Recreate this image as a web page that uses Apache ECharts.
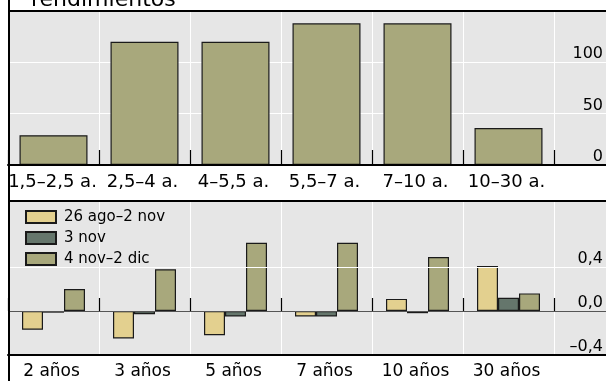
<!DOCTYPE html>
<html>
<head>
<meta charset="utf-8">
<script src="https://cdn.jsdelivr.net/npm/echarts@6/dist/echarts.min.js"></script>
<style>
html,body{margin:0;padding:0;background:#fff;}
#chart{width:606px;height:381px;}
</style>
</head>
<body>
<div id="chart"></div>
<script>
// ---- data ----
var titleText = 'rendimientos';
var topCategories = ['1,5–2,5 a.', '2,5–4 a.', '4–5,5 a.', '5,5–7 a.', '7–10 a.', '10–30 a.'];
var topValues = [29, 120, 120, 138, 138, 36];
var topTickValues = [0, 50, 100];
var topTickLabels = ['0', '50', '100'];

var bottomCategories = ['2 años', '3 años', '5 años', '7 años', '10 años', '30 años'];
var seriesNames = ['26 ago–2 nov', '3 nov', '4 nov–2 dic'];
var seriesA = [-0.17, -0.25, -0.22, -0.05, 0.11, 0.41];
var seriesB = [-0.015, -0.03, -0.05, -0.05, -0.02, 0.12];
var seriesC = [0.20, 0.38, 0.62, 0.62, 0.49, 0.16];
var bottomTickValues = [-0.4, 0, 0.4];
var bottomTickLabels = ['–0,4', '0,0', '0,4'];

// ---- styles ----
var FONT = '"DejaVu Sans", Verdana, sans-serif';
var BG = '#e6e6e6';
var colA = '#e3d08f', colB = '#65766c', colC = '#a8a87c';
var barBorder = { borderColor: '#1a1a1a', borderWidth: 1.2 };

function tickFormatter(values, labels) {
  return function (v) {
    for (var i = 0; i < values.length; i++) {
      if (Math.abs(values[i] - v) < 1e-9) return labels[i];
    }
    return '';
  };
}
// category label objects: shift labels slightly left
function labelItems(cats, firstPad) {
  return cats.map(function (c, i) {
    return { value: c, textStyle: { padding: [0, i === 0 ? firstPad : 4, 0, 0] } };
  });
}

var chart = echarts.init(document.getElementById('chart'), null, { renderer: 'canvas' });

var fullXAxis = function (gridIndex) {
  return {
    type: 'category', gridIndex: gridIndex, data: [''], position: 'bottom', z: 3,
    axisLine: { show: true, onZero: false, lineStyle: { color: '#000', width: 2 } },
    axisTick: { show: false }, axisLabel: { show: false }, splitLine: { show: false }
  };
};
var barXAxis = function (gridIndex, cats, fontSize, tickLen, margin) {
  return {
    type: 'category', gridIndex: gridIndex, data: cats, position: 'bottom', z: 1,
    axisLine: { show: false },
    axisTick: { show: true, inside: true, length: tickLen, interval: 0, lineStyle: { color: '#000', width: 1.2 } },
    splitLine: { show: true, interval: 0, lineStyle: { color: '#fff', width: 1 } },
    axisLabel: { show: true, interval: 0, margin: margin, color: '#000', fontSize: fontSize, fontFamily: FONT }
  };
};

var option = {
  animation: false,
  backgroundColor: '#fff',
  textStyle: { fontFamily: FONT },
  grid: [
    { left: 8, right: 0, top: 11, height: 154, show: true, backgroundColor: BG, borderWidth: 0, z: 0 },
    { left: 8, right: 52, top: 11, height: 154 },
    { left: 8, right: 0, top: 201, height: 154, show: true, backgroundColor: BG, borderWidth: 0, z: 0 },
    { left: 8, right: 52, top: 201, height: 154 }
  ],
  xAxis: [
    fullXAxis(0),
    barXAxis(1, labelItems(topCategories, 2), 18, 15, 8),
    fullXAxis(2),
    barXAxis(3, labelItems(bottomCategories, 4), 17, 13, 8)
  ],
  yAxis: [
    {
      type: 'value', gridIndex: 0, position: 'right', min: 0, max: 150, interval: 50, z: 1,
      axisLine: { show: false }, axisTick: { show: false },
      splitLine: { show: true, lineStyle: { color: '#fff', width: 1 } },
      axisLabel: { inside: true, margin: 3, verticalAlign: 'bottom', color: '#000', fontSize: 16, fontFamily: FONT,
        formatter: tickFormatter(topTickValues, topTickLabels) }
    },
    { type: 'value', gridIndex: 1, min: 0, max: 150, interval: 50, show: false },
    {
      type: 'value', gridIndex: 2, position: 'right', min: -0.4, max: 1.0, interval: 0.4, z: 1,
      axisLine: { show: false }, axisTick: { show: false },
      splitLine: { show: false },
      axisLabel: { inside: true, margin: 3, verticalAlign: 'bottom', color: '#000', fontSize: 16, fontFamily: FONT,
        showMaxLabel: false,
        formatter: tickFormatter(bottomTickValues, bottomTickLabels) }
    },
    { type: 'value', gridIndex: 3, min: -0.4, max: 1.0, interval: 0.4, show: false }
  ],
  legend: {
    show: true, orient: 'vertical', left: 25, top: 209, padding: 0,
    itemWidth: 30, itemHeight: 12, itemGap: 5,
    icon: 'rect',
    data: seriesNames,
    textStyle: { fontSize: 15, lineHeight: 16, color: '#000', fontFamily: FONT, padding: [0, 0, 0, 3] }
  },
  series: [
    {
      type: 'bar', xAxisIndex: 1, yAxisIndex: 1, data: topValues, barWidth: 68, z: 2,
      itemStyle: Object.assign({ color: colC }, barBorder)
    },
    {
      type: 'line', xAxisIndex: 2, yAxisIndex: 2, data: [], z: 1, silent: true, symbol: 'none',
      markLine: {
        silent: true, symbol: ['none', 'none'], label: { show: false }, animation: false,
        data: [
          { yAxis: 0.4, lineStyle: { color: '#fff', width: 1, type: 'solid' } },
          { yAxis: 0, lineStyle: { color: '#555', width: 1, type: 'solid' } }
        ]
      }
    },
    {
      name: seriesNames[0], type: 'bar', xAxisIndex: 3, yAxisIndex: 3, data: seriesA, barWidth: 21, barGap: '0%', z: 2,
      itemStyle: Object.assign({ color: colA }, barBorder)
    },
    {
      name: seriesNames[1], type: 'bar', xAxisIndex: 3, yAxisIndex: 3, data: seriesB, barWidth: 21, barGap: '0%', z: 2,
      itemStyle: Object.assign({ color: colB }, barBorder)
    },
    {
      name: seriesNames[2], type: 'bar', xAxisIndex: 3, yAxisIndex: 3, data: seriesC, barWidth: 21, barGap: '0%', z: 2,
      itemStyle: Object.assign({ color: colC }, barBorder)
    }
  ],
  graphic: [
    { type: 'text', left: 31, top: -11, z: 10,
      style: { text: titleText, fontSize: 22, fontFamily: FONT, fill: '#000' } },
    { type: 'line', z: 10, shape: { x1: 8, y1: 11, x2: 606, y2: 11 }, style: { stroke: '#000', lineWidth: 2 } },
    { type: 'line', z: 10, shape: { x1: 8, y1: 201, x2: 606, y2: 201 }, style: { stroke: '#000', lineWidth: 2 } },
    { type: 'line', z: 10, shape: { x1: 9, y1: 0, x2: 9, y2: 381 }, style: { stroke: '#000', lineWidth: 2 } }
  ]
};
chart.setOption(option);
</script>
</body>
</html>
